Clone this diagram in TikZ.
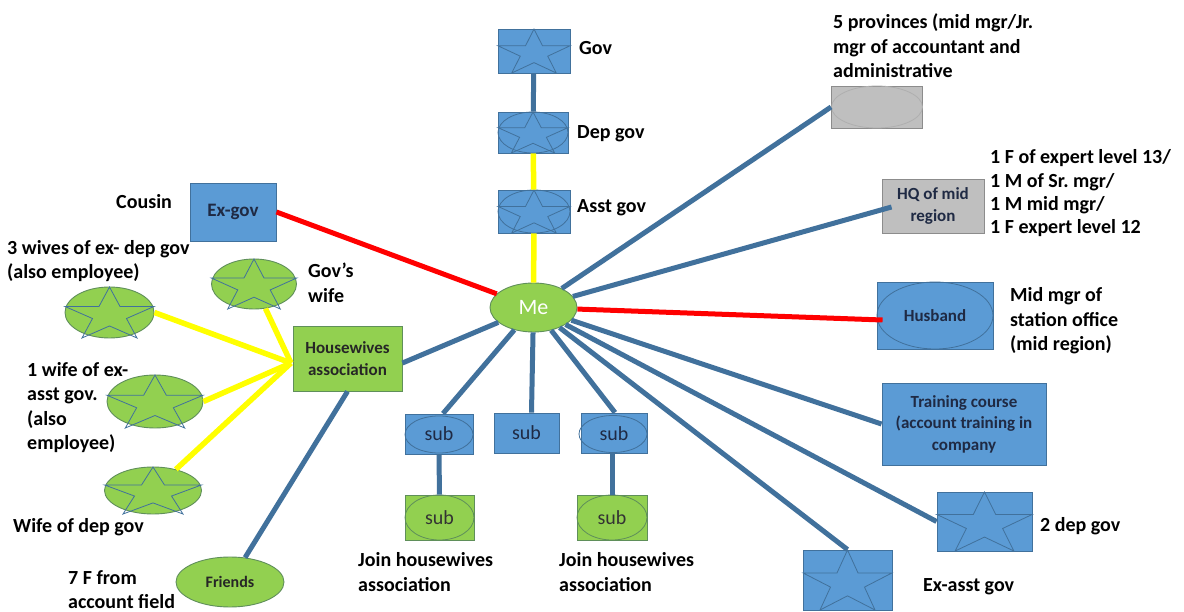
\documentclass[tikz,border=0pt]{standalone}
\usepackage{fontspec}
\setmainfont{Carlito}
\usetikzlibrary{shapes.geometric,calc}
\frenchspacing

\definecolor{boxblue}{HTML}{5B9BD5}
\definecolor{edgeblue}{HTML}{41719C}
\definecolor{linkblue}{HTML}{41719C}
\definecolor{leafgreen}{HTML}{92D050}
\definecolor{edgegreen}{HTML}{5F8F5A}
\definecolor{boxgray}{HTML}{BFBFBF}
\definecolor{edgegray}{HTML}{8C8C8C}
\definecolor{navytext}{HTML}{1F2A44}
\definecolor{hotred}{HTML}{FF0000}
\definecolor{brightyellow}{HTML}{FFFF00}

% five-pointed star stretched to fill a w x h frame centred at (cx,cy)
\newcommand\boxstar[4]{%
  \draw[starline] ({#1},{#2-#4/2})
    \foreach \i in {1,...,9}{
      -- ({#1+cos(90+36*\i)*(1-0.618*mod(\i,2))*#3/1.902},
          {#2-(sin(90+36*\i)*(1-0.618*mod(\i,2))-0.0955)*#4/1.809})
    } -- cycle;}

\newcommand\lblfont{\bfseries\fontsize{20}{24.5}\selectfont}
\newcommand\inboxfont{\bfseries\fontsize{17}{21.5}\selectfont}

\begin{document}
\begin{tikzpicture}[x=1pt,y=-1pt,
  bluebox/.style={rectangle,fill=boxblue,draw=edgeblue,line width=0.9pt,inner sep=0pt,
                  text=navytext,font=\inboxfont,align=center},
  greenbox/.style={rectangle,fill=leafgreen,draw=edgegreen,line width=0.9pt,inner sep=0pt,
                  text=black!85,font=\inboxfont,align=center},
  graybox/.style={rectangle,fill=boxgray,draw=edgegray,line width=0.9pt,inner sep=0pt,
                  text=navytext,font=\inboxfont,align=center},
  greenoval/.style={ellipse,fill=leafgreen,draw=edgegreen,line width=0.9pt,inner sep=0pt,
                  text=black!85,font=\inboxfont},
  subtext/.style={font=\fontsize{20}{24}\selectfont,text=navytext},
  starline/.style={draw=edgeblue,line width=0.8pt,line join=miter},
  innerline/.style={draw=edgeblue,line width=0.8pt},
  link/.style={draw=linkblue,line width=5pt},
  redlink/.style={draw=hotred,line width=5pt},
  yellowlink/.style={draw=brightyellow,line width=5.5pt},
  lbl/.style={anchor=west,inner sep=0pt,align=left,font=\lblfont,text=black}
]
\useasboundingbox[fill=white] (0,0) rectangle (1184,612);

% ---------- governor chain ----------
\node[bluebox,minimum width=72pt,minimum height=44pt] (gov) at (534,51) {};
\boxstar{534}{51}{72}{44}
\node[bluebox,minimum width=70pt,minimum height=41pt] (depgov) at (533,132.5) {};
\draw[innerline] (depgov.center) ellipse (35 and 20.5);
\boxstar{533}{132.5}{70}{41}
\node[bluebox,minimum width=72pt,minimum height=43pt] (asstgov) at (534,211.5) {};
\draw[innerline] (asstgov.center) ellipse (36 and 21.5);
\boxstar{534}{211.5}{72}{43}

\node[lbl] (govl) at (579,48) {Gov};
\node[lbl] (depgovl) at (577,134) {Dep gov};
\node[lbl] (asstgovl) at (577,208) {Asst gov};

% ---------- centre ----------
\node[ellipse,fill=leafgreen,draw=edgegreen,line width=0.9pt,inner sep=0pt,
      minimum width=87pt,minimum height=49pt,text=white,
      font=\fontsize{22}{26}\selectfont] (me) at (533.5,307.5) {Me};

% ---------- right side ----------
\node[graybox,minimum width=91pt,minimum height=42pt] (prov) at (877,107) {};
\draw[draw=edgegray!70,line width=0.8pt] (prov.center) ellipse (45.5 and 21);
\node[lbl] (provl) at (833,46) {5 provinces (mid mgr/Jr.\\mgr of accountant and\\administrative};

\node[graybox,minimum width=102pt,minimum height=54pt,font=\bfseries\fontsize{17}{22}\selectfont] (hq) at (933,206) {HQ of mid\\region};
\node[lbl,font=\bfseries\fontsize{20}{23.3}\selectfont] (hql) at (990,193.5) {1 F of expert level 13/\\1 M of Sr. mgr/\\1 M mid mgr/\\1 F expert level 12};

\node[bluebox,minimum width=116pt,minimum height=67pt] (husband) at (935,315.5) {};
\draw[innerline] (husband.center) ellipse (58 and 33.5);
\node[font=\inboxfont,text=navytext,inner sep=0pt] (husbandt) at (935,316) {Husband};
\node[lbl] (husbandl) at (1010,321) {Mid mgr of\\station office\\(mid region)};

\node[bluebox,minimum width=164pt,minimum height=82pt] (training) at (964,424) {Training course\\(account training in\\company};

\node[bluebox,minimum width=95pt,minimum height=59pt] (twodep) at (984.5,521.5) {};
\boxstar{984.5}{521.5}{95}{59}
\node[lbl] (twodepl) at (1040,526) {2 dep gov};

\node[bluebox,minimum width=89pt,minimum height=60pt] (exasst) at (847.5,580) {};
\boxstar{847.5}{580}{89}{60}
\node[lbl] (exasstl) at (923,587) {Ex-asst gov};

% ---------- subordinates ----------
\node[bluebox,minimum width=68pt,minimum height=40pt] (sub1) at (439,434) {};
\draw[innerline] (439,434.5) ellipse (34 and 18.5);
\node[subtext] (sub1t) at (439,434) {sub};
\node[bluebox,minimum width=65pt,minimum height=40pt,subtext] (sub2) at (526.5,433) {sub};
\node[bluebox,minimum width=66pt,minimum height=40pt] (sub3) at (614,433) {};
\draw[innerline] (613,434) ellipse (34 and 18.5);
\node[subtext] (sub3t) at (614,434) {sub};

\node[greenbox,minimum width=69pt,minimum height=45pt] (gsub1) at (439.5,517.5) {};
\draw[draw=edgegreen,line width=0.8pt] (gsub1.center) ellipse (34.5 and 22.5);
\node[subtext,text=black!80] (gsub1t) at (439.5,517.5) {sub};
\node[greenbox,minimum width=70pt,minimum height=45pt] (gsub2) at (612,517.5) {};
\draw[draw=edgegreen,line width=0.8pt] (gsub2.center) ellipse (35 and 22.5);
\node[subtext,text=black!80] (gsub2t) at (612,517.5) {sub};

\node[lbl] (joinl1) at (358,572) {Join housewives\\association};
\node[lbl] (joinl2) at (559,572) {Join housewives\\association};

% ---------- left side ----------
\node[greenbox,minimum width=109pt,minimum height=65pt] (hw) at (347.5,358.5) {Housewives\\association};
\node[greenoval,minimum width=108pt,minimum height=50pt,font=\bfseries\fontsize{16}{20}\selectfont] (friends) at (230,582) {Friends};
\node[lbl,font=\bfseries\fontsize{20}{23.5}\selectfont] (friendsl) at (68,589.5) {7 F from\\account field};

\node[bluebox,minimum width=86pt,minimum height=58pt,font=\bfseries\fontsize{19}{23}\selectfont] (exgov) at (233,212) {Ex-gov};
\node[lbl] (exgovl) at (116,202) {Cousin};

\node[greenoval,minimum width=85pt,minimum height=50pt] (govwife) at (254,284) {};
\boxstar{254}{284}{85}{50}
\node[lbl] (govwifel) at (308,283) {Gov’s\\wife};

\node[greenoval,minimum width=89pt,minimum height=51pt] (wives3) at (109.5,312.5) {};
\boxstar{109.5}{312.5}{89}{51}
\node[lbl] (wives3l) at (7,261) {3 wives of ex- dep gov\\(also employee)};

\node[greenoval,minimum width=96pt,minimum height=53pt] (wife1) at (155,401.5) {};
\boxstar{155}{401.5}{96}{53}
\node[lbl] (wife1l) at (27,407.5) {1 wife of ex-\\asst gov.\\(also\\employee)};

\node[greenoval,minimum width=97pt,minimum height=47pt] (wifedep) at (153,490.5) {};
\boxstar{153}{490.5}{97}{47}
\node[lbl] (wifedepl) at (13,527) {Wife of dep gov};

\coordinate (hwin) at (291,363);

% ---------- connectors ----------
\draw[link] (gov) -- (depgov);
\draw[yellowlink] (depgov) -- (asstgov);
\draw[yellowlink] (asstgov) -- (me);

\draw[link] (me) -- (prov.west);
\draw[link] (me) -- ($(hq.west)+(10,1)$);
\draw[redlink] (me) -- ($(husband.west)+(6,4.5)$);
\draw[link] (me) -- (training.west);
\draw[link] (me) -- (twodep.west);
\draw[link] (me) -- (exasst.north);

\draw[link] (me) -- ($(sub1.north)+(4,0)$);
\draw[link] (me) -- ($(sub2.north)+(5,0)$);
\draw[link] (me) -- ($(sub3.north)+(1,0)$);
\draw[link] (sub1) -- (gsub1);
\draw[link] ($(sub3.south)+(-2,0)$) -- (gsub2.north);

\draw[link] (me) -- ($(hw.east)+(0,4.5)$);
\draw[link] (hw.south) -- (friends);
\draw[redlink] (exgov.east) -- (me);

\draw[yellowlink] (wives3.east) -- (hwin);
\draw[yellowlink] (govwife) -- (hwin);
\draw[yellowlink] (wife1.east) -- (hwin);
\draw[yellowlink] (wifedep) -- (hwin);
\end{tikzpicture}
\end{document}
